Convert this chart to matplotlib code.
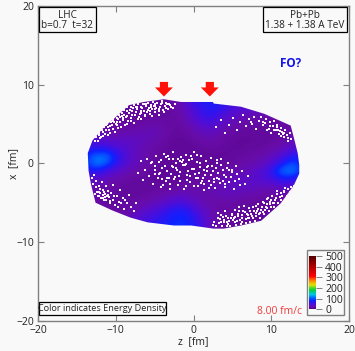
import numpy as np
import matplotlib
matplotlib.use('Agg')
import matplotlib.pyplot as plt
from matplotlib import cm
from matplotlib.colors import LinearSegmentedColormap, Normalize
from matplotlib.patches import Polygon, Rectangle

#######################################################################
# Data
#######################################################################
outline_z = [-13.6, -13.0, -11.5, -10.2, -8.3, -6.4, -3.8, -1.6, -0.3, 2.5, 2.6, 6.1, 9.1, 12.5, 13.0, 13.4, 13.6,
             13.6, 12.9, 11.2, 8.7, 6.1, 3.9, 2.6, -0.3, -2.5, -5.9, -8.1, -10.4, -12.6, -13.2, -13.5]
outline_x = [1.3, 2.9, 4.6, 5.7, 7.4, 7.8, 8.15, 7.8, 7.8, 7.8, 7.6, 7.2, 6.3, 4.8, 2.9, 1.3, -0.2,
             -1.3, -2.8, -5.1, -7.3, -7.9, -8.3, -8.3, -7.9, -7.9, -7.5, -6.9, -6.0, -5.0, -2.6, -0.9]

# energy density, rows x = 8 .. -8, columns z = -14 .. 14, both in steps of 1 fm
grid_z = [-14, 14]
grid_x = [-8, 8]
density = [
    [18, 18, 18, 18, 18, 18, 18, 18, 17, 16, 16, 18, 22, 45, 65, 75, 80, 70, 60, 55, 50, 40, 40, 40, 40, 40, 40, 40, 40],
    [18, 18, 18, 18, 18, 18, 17, 17, 16, 16, 16, 18, 22, 32, 48, 62, 70, 72, 62, 50, 45, 42, 38, 35, 32, 30, 28, 28, 28],
    [20, 20, 20, 20, 18, 17, 17, 16, 16, 16, 16, 17, 20, 30, 42, 58, 65, 55, 42, 34, 30, 28, 26, 24, 22, 20, 20, 20, 20],
    [24, 24, 22, 20, 18, 17, 17, 18, 20, 22, 20, 18, 18, 24, 32, 42, 46, 40, 30, 24, 22, 20, 18, 18, 18, 18, 20, 22, 22],
    [28, 26, 24, 22, 20, 22, 24, 26, 28, 28, 24, 18, 16, 18, 24, 30, 32, 28, 22, 18, 17, 16, 16, 16, 16, 17, 20, 24, 26],
    [40, 40, 38, 34, 32, 34, 34, 32, 28, 24, 20, 16, 15, 15, 18, 22, 24, 22, 18, 16, 15, 15, 16, 16, 16, 18, 24, 28, 30],
    [56, 60, 62, 55, 46, 40, 34, 28, 24, 20, 17, 15, 14, 14, 15, 17, 18, 17, 16, 15, 15, 16, 16, 18, 20, 24, 32, 38, 40],
    [75, 100, 108, 105, 72, 50, 36, 28, 22, 18, 16, 14, 14, 14, 14, 14, 15, 15, 15, 16, 17, 19, 20, 24, 30, 38, 55, 70, 60],
    [80, 112, 118, 98, 70, 48, 34, 26, 20, 17, 15, 14, 14, 14, 14, 14, 14, 15, 16, 18, 20, 22, 26, 32, 42, 62, 88, 95, 70],
    [62, 72, 66, 50, 38, 30, 24, 20, 18, 16, 15, 14, 14, 14, 14, 15, 16, 18, 20, 24, 26, 30, 36, 46, 68, 105, 118, 110, 80],
    [36, 38, 32, 28, 24, 20, 18, 17, 16, 15, 15, 15, 15, 15, 17, 18, 20, 24, 26, 30, 34, 36, 40, 46, 54, 68, 75, 65, 50],
    [26, 26, 24, 20, 18, 16, 16, 16, 16, 16, 16, 17, 18, 20, 20, 22, 24, 26, 30, 32, 34, 34, 32, 30, 28, 34, 38, 36, 30],
    [24, 22, 20, 18, 17, 16, 16, 17, 18, 20, 22, 26, 30, 30, 26, 24, 24, 28, 30, 30, 26, 24, 22, 20, 20, 20, 22, 24, 24],
    [22, 20, 18, 17, 17, 17, 18, 20, 24, 28, 34, 42, 48, 44, 34, 26, 22, 20, 20, 20, 18, 17, 16, 16, 17, 18, 20, 20, 20],
    [20, 18, 18, 18, 18, 20, 24, 30, 38, 45, 55, 68, 76, 70, 55, 38, 26, 20, 18, 17, 16, 16, 16, 16, 16, 18, 18, 18, 18],
    [18, 18, 18, 20, 22, 26, 32, 42, 52, 60, 68, 76, 82, 78, 68, 46, 30, 22, 18, 17, 16, 16, 16, 18, 18, 18, 18, 18, 18],
    [18, 18, 18, 20, 22, 26, 34, 46, 56, 66, 74, 82, 88, 84, 74, 52, 32, 22, 18, 17, 16, 16, 16, 16, 16, 16, 16, 16, 16],
]

# white specks (cells with no matter), upper left crescent
ul_z = [-12.7, -12.5, -12.3, -12.1, -12.0, -11.8, -11.7, -11.5, -11.4, -11.2, -11.1, -11.0, -10.8, -10.7, -10.6,
        -10.4, -10.3, -10.1, -10.0, -9.9, -9.7, -9.6, -9.5, -9.3, -9.2, -9.1, -8.9, -8.8, -8.7, -8.5, -8.4, -8.3,
        -8.1, -8.0, -7.9, -7.7, -7.6, -7.5, -7.3, -7.2, -7.1, -6.9, -6.8, -6.7, -6.5, -6.4, -6.2, -6.1, -5.9, -5.8,
        -5.6, -5.5, -5.3, -5.2, -5.0, -4.9, -4.7, -4.5, -4.4, -4.2, -4.0, -3.9, -3.7, -3.5, -3.3, -3.0, -2.7, -2.4,
        -12.2, -11.6, -11.3, -10.9, -10.5, -10.2, -9.8, -9.4, -9.0, -8.6, -8.2, -7.8, -7.4, -7.0, -6.6, -6.3, -6.0,
        -5.7, -5.4, -5.1, -4.8, -4.3, -3.8, -3.4, -2.9, -11.9, -10.6, -9.9, -9.2, -8.6, -8.0, -7.4, -6.8, -6.2, -5.6,
        -5.0, -4.4, -3.6, -11.0, -10.3, -9.7, -9.1, -8.5, -7.9, -7.3, -6.7, -6.1, -5.5, -4.9, -4.1, -3.2]
ul_x = [2.9, 3.4, 2.8, 3.9, 3.2, 4.3, 3.5, 4.6, 3.7, 4.2, 5.0, 3.6, 4.7, 3.9, 5.3,
        4.4, 5.6, 4.0, 5.0, 5.8, 4.5, 6.1, 5.2, 4.6, 6.4, 5.5, 6.8, 4.9, 5.9, 7.1, 5.4, 6.4,
        7.2, 5.8, 6.6, 5.1, 7.4, 6.1, 6.9, 5.6, 7.5, 6.3, 7.1, 5.7, 7.6, 6.6, 6.0, 7.3, 6.8, 7.7,
        6.3, 7.4, 6.9, 7.8, 6.5, 7.3, 7.7, 6.9, 6.2, 7.5, 7.9, 6.8, 7.3, 7.7, 6.9, 7.4, 7.0, 7.5,
        3.6, 4.0, 4.9, 4.3, 4.9, 5.2, 5.3, 5.9, 6.2, 6.6, 6.8, 7.0, 6.5, 5.9, 7.0, 6.2, 6.5,
        7.0, 6.0, 7.3, 7.0, 7.2, 6.5, 7.5, 7.2, 3.3, 5.7, 4.9, 6.0, 5.0, 5.4, 7.2, 6.6, 7.5, 6.7,
        7.6, 6.6, 7.0, 4.6, 5.4, 5.6, 5.8, 6.0, 6.2, 7.2, 6.4, 7.5, 7.1, 6.9, 7.7, 7.6]

# centre patch
c_z = [-7.2, -6.8, -6.5, -6.3, -6.0, -5.7, -5.5, -5.2, -5.0, -4.8, -4.6, -4.4, -4.2, -4.0, -3.8, -3.6, -3.4, -3.2,
       -3.0, -2.8, -2.6, -2.4, -2.2, -2.0, -1.8, -1.6, -1.4, -1.2, -1.0, -0.8, -0.6, -0.4, -0.2, 0.0, 0.2, 0.4,
       0.6, 0.8, 1.0, 1.2, 1.4, 1.6, 1.8, 2.0, 2.2, 2.4, 2.6, 2.8, 3.0, 3.2, 3.4, 3.6, 3.8, 4.0, 4.2, 4.4, 4.6,
       4.9, 5.2, 5.5, 5.8, 6.2, 6.6, 7.0, -4.5, -3.5, -2.5, -1.5, -0.5, 0.5, 1.5, 2.5, 3.5, -3.1, -2.1, -1.1, 0.1, 1.1,
       -5.4, -4.9, -4.3, -3.9, -3.3, -2.9, -2.3, -1.9, -1.3, -0.9, -0.3, 0.3, 0.9, 1.3, 1.9, 2.3, 2.9, 3.3, 3.9, 4.3,
       4.8, 5.4, -3.7, -2.7, -1.7, -0.7, 0.7, 1.7, 2.7, -4.1, -3.0, -2.0, -1.0, 0.0, 1.0, 2.0, 3.0, 4.1, 5.0, 6.0,
       -5.0, -4.2, -3.4, -2.6, -1.8, -1.0, -0.2, 0.6, 1.4, 2.2, 3.0, 3.8, 4.6, 5.6]
c_x = [-1.2, 0.3, -2.1, -0.8, 0.6, -1.6, 0.0, -2.6, -0.9, 0.9, -1.9, 0.2, -3.0, -0.6, 1.2, -2.2, -1.0, 0.5,
       -3.2, -0.3, 1.4, -1.7, 0.1, -2.7, -1.1, 0.8, -0.2, -3.3, 1.1, -1.5, 0.4, -2.4, -0.7, 1.5, -1.3, 0.2,
       -2.9, -0.5, 0.9, -1.8, -3.4, 0.3, -1.0, -2.3, 0.7, -0.4, -2.0, -3.1, 0.1, -1.2, -2.5, 0.5, -0.9, -3.0, -1.7, 0.0,
       -2.4, -1.1, -3.2, -0.4, -2.0, -1.0, -2.6, -1.6, -1.4, 0.8, -2.0, 0.2, -1.6, 1.0, -1.5, -1.0, -0.2, -1.9, -0.9, -0.2, -0.7, -2.2,
       0.2, -0.3, -1.2, -2.7, 0.9, -1.4, -0.6, -1.6, 0.4, -2.1, 0.9, -1.9, 0.1, -2.6, -0.3, -1.5, -0.6, -2.0, -1.5, -0.6,
       -1.7, -2.3, -0.4, 0.6, -2.3, -1.0, -1.2, -0.5, -2.4, -2.0, -2.6, 0.5, -0.1, -2.9, -2.5, -3.1, -1.8, -2.6, -0.8, -2.8,
       -1.3, 0.4, -1.8, -0.5, 0.3, -2.9, 0.6, -1.9, -0.9, -2.7, 0.4, -2.2, -0.9, -1.4]

# lower right crescent
lr_z = [12.9, 12.7, 12.5, 12.3, 12.1, 11.9, 11.7, 11.5, 11.3, 11.1, 10.9, 10.7, 10.5, 10.3, 10.1, 9.9, 9.7, 9.5,
        9.3, 9.1, 8.9, 8.7, 8.5, 8.3, 8.1, 7.9, 7.7, 7.5, 7.3, 7.1, 6.9, 6.7, 6.5, 6.3, 6.1, 5.9, 5.7, 5.5, 5.3,
        5.1, 4.9, 4.7, 4.5, 4.3, 4.1, 3.9, 3.7, 3.5, 3.3, 3.1, 2.9, 2.7, 11.6, 11.0, 10.4, 9.8, 9.2, 8.6, 8.0, 7.4,
        6.8, 6.2, 5.6, 5.0, 4.4, 3.8, 10.0, 9.0, 8.2, 7.2, 6.4, 5.4,
        12.4, 11.8, 11.2, 10.6, 10.2, 9.6, 9.4, 8.8, 8.4, 7.8, 7.6, 7.0, 6.6, 6.0, 5.8, 5.2, 4.6, 4.2, 3.6, 3.2,
        12.0, 10.8, 9.5, 8.3, 7.3, 6.3, 5.3, 4.3, 3.4, 2.5, 11.4, 10.0, 9.1, 8.0, 7.0, 5.7, 4.8, 3.9]
lr_x = [-2.9, -3.5, -3.0, -4.0, -3.3, -4.5, -3.6, -4.9, -3.8, -4.3, -5.1, -3.9, -4.7, -5.6, -4.2, -5.2, -6.0, -4.5,
        -5.5, -6.5, -4.9, -5.9, -7.0, -5.2, -6.3, -7.3, -5.5, -6.7, -7.5, -5.7, -6.4, -7.6, -5.4, -7.0, -7.7, -6.1, -6.7,
        -7.8, -5.9, -7.2, -6.4, -7.9, -6.9, -7.5, -6.1, -7.2, -7.9, -6.6, -7.6, -7.0, -8.0, -7.4, -3.5, -5.5, -5.0, -4.9,
        -5.9, -6.3, -6.7, -6.4, -7.1, -6.6, -7.3, -6.6, -7.7, -6.8, -5.6, -6.2, -6.0, -7.0, -6.0, -6.8,
        -3.7, -3.1, -4.6, -4.4, -5.0, -4.4, -5.7, -5.6, -6.4, -6.0, -7.0, -6.9, -6.2, -7.2, -5.6, -6.9, -7.3, -6.7, -7.4, -6.3,
        -4.1, -3.5, -5.2, -5.8, -6.1, -7.4, -7.5, -7.9, -7.1, -7.8, -4.2, -4.6, -5.1, -5.4, -6.6, -6.5, -7.0, -7.5]

# lower left patch
ll_z = [-13.1, -12.9, -12.8, -12.6, -12.5, -12.4, -12.2, -12.1, -12.0, -11.8, -11.7, -11.6, -11.4, -11.3, -11.2, -11.0,
        -10.9, -10.7, -10.6, -10.4, -10.3, -10.1, -9.9, -9.7, -9.5, -9.3, -9.1, -8.9, -8.6, -8.3, -8.0, -7.7, -7.4,
        -12.3, -12.0, -11.7, -11.4, -11.1, -10.8, -12.7, -12.2, -11.9, -11.5, -11.5, -11.0, -10.2, -9.6, -8.8]
ll_x = [-1.9, -2.6, -1.5, -3.0, -2.2, -3.6, -2.9, -4.1, -3.3, -2.4, -4.4, -3.4, -3.9, -2.9, -4.7, -3.5,
        -4.3, -5.1, -3.8, -4.7, -2.8, -5.3, -4.2, -5.5, -3.4, -5.0, -4.4, -5.8, -5.1, -4.0, -5.6, -6.0, -5.0,
        -4.2, -3.8, -4.0, -4.3, -4.2, -4.8, -3.9, -3.6, -4.4, -4.6, -3.6, -4.0, -4.2, -4.9, -4.7]

# upper right patch
ur_z = [2.9, 3.5, 4.0, 4.6, 5.1, 5.6, 6.0, 6.4, 6.8, 7.1, 7.5, 7.8, 8.1, 8.4, 8.7, 9.0, 9.3, 9.5, 9.8, 10.0, 10.2,
        10.4, 10.6, 10.8, 11.0, 11.2, 11.4, 11.6, 11.8, 12.0, 12.2, 12.4, 12.6, 9.2, 9.7, 10.3, 10.9, 11.5, 12.1,
        10.7, 11.1, 11.3, 11.7, 9.9, 8.9, 7.4]
ur_x = [4.6, 5.5, 3.9, 4.9, 5.8, 4.3, 5.2, 6.1, 4.7, 5.6, 5.0, 5.9, 4.4, 5.4, 5.9, 4.9, 5.6, 4.3, 5.2, 3.8, 4.8,
        5.4, 4.2, 4.9, 3.7, 4.5, 4.0, 3.3, 4.3, 3.6, 2.8, 3.9, 3.1, 5.1, 4.4, 4.3, 4.3, 3.7, 3.2,
        4.6, 4.1, 3.5, 3.9, 4.7, 5.3, 5.3]

speck_z = ul_z + c_z + lr_z + ll_z + ur_z
speck_x = ul_x + c_x + lr_x + ll_x + ur_x

arrow_z = [-3.8, 2.1]
ticks = [-20, -10, 0, 10, 20]
cbar_ticks = [0, 100, 200, 300, 400, 500]

cmap_stops = [(0, '#50007a'), (20, '#680ca8'), (35, '#5c0cc8'), (55, '#4010e4'), (80, '#1020ff'), (110, '#0070ff'),
              (140, '#00c8e0'), (180, '#00d040'), (230, '#e0e000'), (270, '#ff8000'), (310, '#ff0000'),
              (420, '#a00000'), (500, '#500000')]

#######################################################################
# Figure
#######################################################################
W, H = 355, 351
BG = '#f9f9f9'
GRAY = '#808080'
TXT = '#222222'
plt.rcParams['font.family'] = ['Open Sans', 'DejaVu Sans']
plt.rcParams['font.size'] = 7.5


def fx(px):
    return px / W


def fy(py):
    return 1 - py / H


fig = plt.figure(figsize=(W / 100, H / 100), dpi=100, facecolor=BG)
ax = fig.add_axes([fx(38), fy(320.7), fx(349) - fx(38), fy(6) - fy(320.7)], facecolor=BG)

cmap = LinearSegmentedColormap.from_list('energy', [(v / 500, c) for v, c in cmap_stops])
norm = Normalize(0, 500)

im = ax.imshow(np.array(density), cmap=cmap, norm=norm, aspect='auto', interpolation='bicubic',
               extent=(grid_z[0] - 0.5, grid_z[1] + 0.5, grid_x[0] - 0.5, grid_x[1] + 0.5), zorder=1)
im.set_clip_path(Polygon(np.column_stack([outline_z, outline_x]), transform=ax.transData))
ax.scatter(speck_z, speck_x, s=1.0, marker='s', c='#fbf4fb', linewidths=0, zorder=2)

for z in arrow_z:
    ax.arrow(z, 10.35, 0, -1.85, width=1.05, head_width=2.3, head_length=1.15,
             length_includes_head=True, color='#ff1008', linewidth=0, zorder=3)

ax.set_xlim(-20, 20)
ax.set_ylim(-20, 20)
ax.set_xticks(ticks)
ax.set_yticks(ticks)
ax.tick_params(direction='in', length=4.5, width=0.8, color=GRAY, top=True, right=True,
               labelsize=7.5, labelcolor=TXT, pad=3)
for s in ax.spines.values():
    s.set_color(GRAY)
    s.set_linewidth(1.0)
ax.set_xlabel('z  [fm]', fontsize=7.5, color=TXT, labelpad=0)
ax.set_ylabel('x  [fm]', fontsize=7.5, color=TXT, labelpad=-2)

ax.text(12.5, 12.7, 'FO?', color='#1414e6', fontsize=8.5, fontweight='bold', ha='center', va='center')
ax.text(11.1, -19.5, '8.00 fm/c', color='#f03c3c', fontsize=7.5, ha='center', va='bottom')


def label_box(x0, y0, x1, y1, lines, size=7.2):
    """ box given in picture pixels, lines are (px, py, text) """
    fig.add_artist(Rectangle((fx(x0), fy(y1)), fx(x1) - fx(x0), fy(y0) - fy(y1), transform=fig.transFigure,
                             facecolor=BG, edgecolor='black', linewidth=0.9, zorder=5))
    for px, py, s in lines:
        fig.text(fx(px), fy(py), s, ha='center', va='center', fontsize=size, color=TXT, zorder=6)


label_box(38.5, 7.5, 95.5, 32, [(67, 15, 'LHC'), (67, 26, 'b=0.7  t=32')])
label_box(262.5, 7.5, 347, 32, [(304.5, 15, 'Pb+Pb'), (304.5, 26, '1.38 + 1.38 A TeV')])
label_box(38.5, 301.7, 166, 315.3, [(102, 308.5, 'Color indicates Energy Density')], size=6.6)

# colour bar sits in its own box
fig.add_artist(Rectangle((fx(307), fy(315.3)), fx(343.7) - fx(307), fy(250) - fy(315.3), transform=fig.transFigure,
                         facecolor=BG, edgecolor=GRAY, linewidth=1.0, zorder=5))
cax = fig.add_axes([fx(309), fy(309.3), fx(316) - fx(309), fy(256) - fy(309.3)], zorder=7)
cbar = fig.colorbar(cm.ScalarMappable(norm=norm, cmap=cmap), cax=cax, ticks=cbar_ticks)
cbar.outline.set_visible(False)
cbar.ax.tick_params(length=4.5, width=0.7, color=GRAY, labelsize=7.5, labelcolor=TXT, pad=2)

fig.savefig('out.png', dpi=100, facecolor=BG)
